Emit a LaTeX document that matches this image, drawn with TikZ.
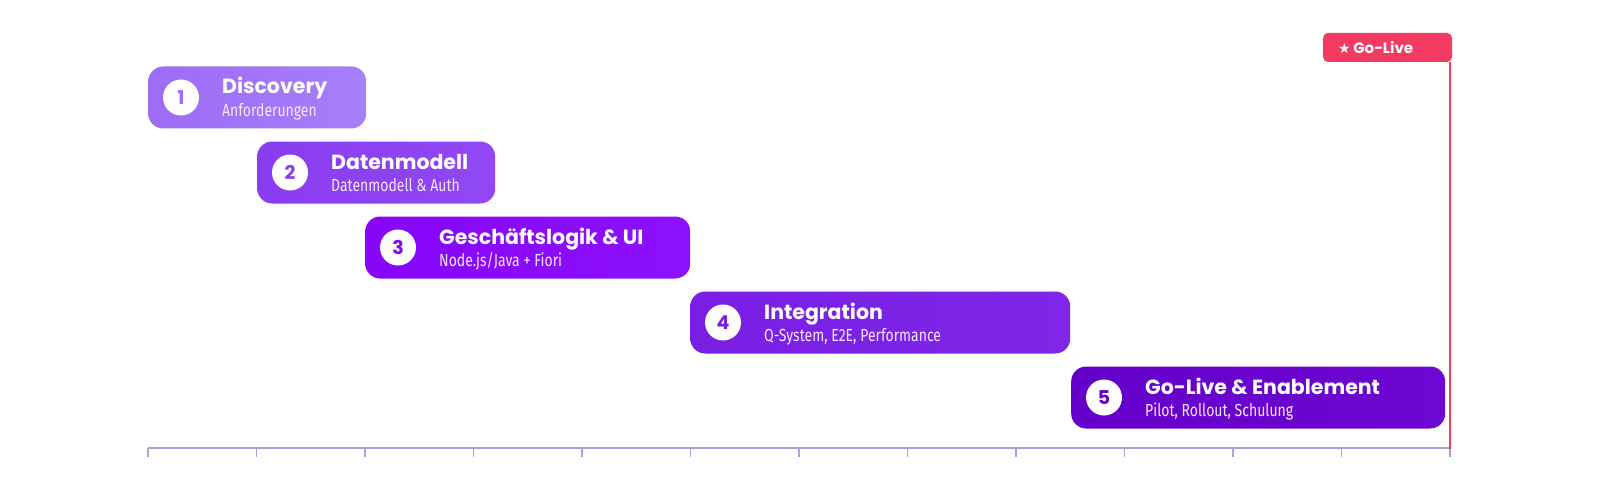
\documentclass[tikz,border=0pt]{standalone}
\usepackage{fontspec}
\setmainfont{Poppins}
\newfontfamily\subfont[FakeStretch=0.8]{Fira Sans}
\newfontfamily\symfont{DejaVu Sans}
\usetikzlibrary{calc}
\definecolor{axisc}{HTML}{A9A4D8}
\definecolor{livec}{HTML}{F23A62}
\definecolor{subc}{HTML}{F5E6FF}
\definecolor{aL}{HTML}{9C6CF6}\definecolor{aR}{HTML}{A77FFA}
\definecolor{bL}{HTML}{893CF0}\definecolor{bR}{HTML}{9148F4}
\definecolor{cL}{HTML}{8706F8}\definecolor{cR}{HTML}{8C10FD}
\definecolor{dL}{HTML}{791EE2}\definecolor{dR}{HTML}{8026E9}
\definecolor{eL}{HTML}{6500CA}\definecolor{eR}{HTML}{6C08D2}
\tikzset{
  x=1pt, y=-1pt,
  barbox/.style 2 args={rectangle, rounded corners=15pt, anchor=west, minimum height=62pt,
     inner sep=0pt, left color=#1, right color=#2, draw=none},
  numc/.style={circle, fill=white, minimum size=36pt, inner sep=0pt,
     text=#1, font=\fontsize{19}{22}\selectfont\bfseries},
  ttl/.style={anchor=base west, inner sep=0pt, text=white, font=\fontsize{20.5}{24}\selectfont\bfseries},
  sub/.style={anchor=base west, inner sep=0pt, text=subc, font=\subfont\fontsize{17.5}{20}\selectfont},
  axisl/.style={draw=axisc, line width=1.5pt},
  tickl/.style={draw=axisc, line width=1.3pt},
  golive/.style={rectangle, rounded corners=5pt, fill=livec, minimum width=129pt, minimum height=29pt, inner sep=0pt},
  goline/.style={draw=livec, line width=2.2pt},
  glt/.style={anchor=west, inner sep=0pt, text=white, font=\fontsize{15}{18}\selectfont\bfseries},
}
\begin{document}
\begin{tikzpicture}
\useasboundingbox (0,0) rectangle (1600,500);
\fill[white] (0,0) rectangle (1600,500);
% axis
\coordinate (axL) at (148,448);
\coordinate (axR) at (1450,448);
\draw[axisl] (axL) -- (axR);
\foreach \i in {0,...,12}{
  \coordinate (tk\i) at ({148+\i*108.5},448);
  \draw[tickl] (tk\i) -- ++(0,9);
}
% bars
\newcommand{\phasebar}[9]{%
  % #1 name, #2 left x, #3 width, #4 center y, #5 left col, #6 right col, #7 number, #8 title, #9 subtitle
  \node[barbox={#5}{#6}, minimum width=#3 pt] (b#1) at (#2,#4) {};
  \node[numc=#5] (c#1) at ($(b#1.west)+(33,0)$) {#7};
  \node[ttl] (t#1) at ($(b#1.west)+(74,-3.5)$) {#8};
  \node[sub] (s#1) at ($(b#1.west)+(74,19)$) {#9};
}
\phasebar{1}{148}{218}{97.5}{aL}{aR}{1}{Discovery}{Anforderungen}
\phasebar{2}{257}{238}{172.5}{bL}{bR}{2}{Datenmodell}{Datenmodell \& Auth}
\phasebar{3}{365}{325}{247.5}{cL}{cR}{3}{Geschäftslogik \& UI}{Node.js/Java + Fiori}
\phasebar{4}{690}{380}{322.5}{dL}{dR}{4}{Integration}{Q-System, E2E, Performance}
\phasebar{5}{1071}{374}{397.5}{eL}{eR}{5}{Go-Live \& Enablement}{Pilot, Rollout, Schulung}
% go-live marker
\node[golive] (gl) at (1387.5,47.5) {};
\node[glt] (gltext) at (1338,48) {{\symfont\fontsize{14}{16}\selectfont ★}\,Go-Live};
\coordinate (rl) at (1450,449);
\draw[goline] (gl.south -| rl) -- (rl);
\end{tikzpicture}
\end{document}
